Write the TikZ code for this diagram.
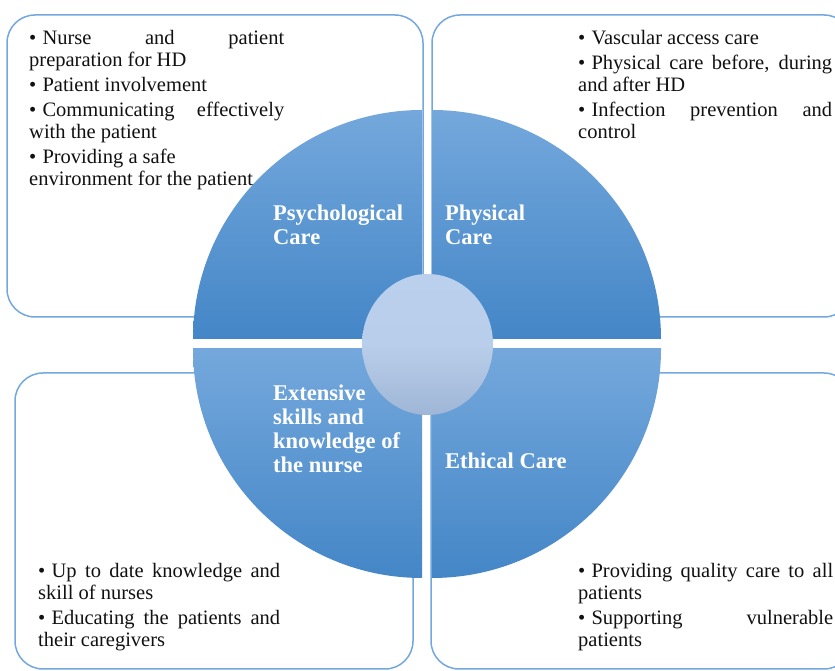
\documentclass[tikz,border=0pt]{standalone}
\usepackage{fontspec}
\setmainfont{Liberation Serif}
\usetikzlibrary{shapes.geometric}
\definecolor{panelline}{HTML}{72A8DE}
\definecolor{quadtop}{HTML}{74A8DC}
\definecolor{quadbottom}{HTML}{4486C7}
\definecolor{hubtop}{HTML}{BAD0EC}
\definecolor{hubbottom}{HTML}{A0B6D6}
\definecolor{bodytext}{HTML}{111111}

% bulleted, justified text block
\newcommand{\itemblock}[2]{\parbox[t]{#1}{\fontsize{20.5}{22}\selectfont
  \setlength{\parskip}{3pt}\setlength{\parindent}{0pt}\sloppy
  \hyphenpenalty=10000 \exhyphenpenalty=10000 #2}}
\newcommand{\bul}{\textbullet\hspace{0.3em}}

\begin{document}
\begin{tikzpicture}[x=1pt,y=1pt,
  panel/.style={draw=panelline, line width=1.5pt, rounded corners=28pt},
  itemtext/.style={anchor=base west, inner sep=0pt, text=bodytext},
  quadlabel/.style={anchor=base west, inner sep=0pt, text=white,
    font=\bfseries\fontsize{22.5}{24}\selectfont}]
\useasboundingbox (0,0) rectangle (835,671);
\clip (0,0) rectangle (835,671);

% outer panels
\draw[panel] (7,354) rectangle (423,656);
\draw[panel] (432,354) rectangle (852,656);
\draw[panel] (15,2) rectangle (413,298);
\draw[panel] (431,2) rectangle (852,298);

% four quarter discs
\begin{scope}
  \clip (422,332) circle [radius=229];
  \shade[top color=quadtop, bottom color=quadbottom] (193,332) rectangle (422,561);
\end{scope}
\begin{scope}
  \clip (432,332) circle [radius=229];
  \shade[top color=quadtop, bottom color=quadbottom] (432,332) rectangle (661,561);
\end{scope}
\begin{scope}
  \clip (422,322) circle [radius=229];
  \shade[top color=quadtop, bottom color=quadbottom] (193,93) rectangle (422,322);
\end{scope}
\begin{scope}
  \clip (432,322) circle [radius=229];
  \shade[top color=quadtop, bottom color=quadbottom] (432,93) rectangle (661,322);
\end{scope}

% central hub
\node (hub) [ellipse, inner sep=0pt, minimum width=131pt, minimum height=141pt,
  top color=hubtop, bottom color=hubbottom, middle color=hubtop!92!hubbottom]
  at (427.5,326.5) {};

% quadrant titles
\node[quadlabel] (psych) at (273,450) {\parbox[t]{150pt}{\raggedright Psychological\\Care}};
\node[quadlabel] (phys) at (445,450) {\parbox[t]{150pt}{\raggedright Physical\\Care}};
\node[quadlabel] (skill) at (273,270) {\parbox[t]{150pt}{\raggedright Extensive\\skills and\\knowledge of\\the nurse}};
\node[quadlabel] (ethic) at (445,202) {\parbox[t]{150pt}{\raggedright Ethical Care}};

% panel contents
\node[itemtext] (psychlist) at (29,626) {\itemblock{255pt}{%
  \bul Nurse and patient\linebreak preparation for HD\par
  \bul Patient involvement\par
  \bul Communicating effectively\linebreak with the patient\par
  \bul Providing a safe\newline environment for the patient}};

\node[itemtext] (physlist) at (578,626) {\itemblock{254pt}{%
  \bul Vascular access care\par
  \bul Physical care before, during\linebreak and after HD\par
  \bul Infection prevention and\linebreak control}};

\node[itemtext] (skilllist) at (38,93) {\itemblock{242pt}{%
  \bul Up to date knowledge and\linebreak skill of nurses\par
  \bul Educating the patients and\linebreak their caregivers}};

\node[itemtext] (ethiclist) at (578,93) {\itemblock{255pt}{%
  \bul Providing quality care to all\linebreak patients\par
  \bul Supporting vulnerable\linebreak patients}};
\end{tikzpicture}
\end{document}
